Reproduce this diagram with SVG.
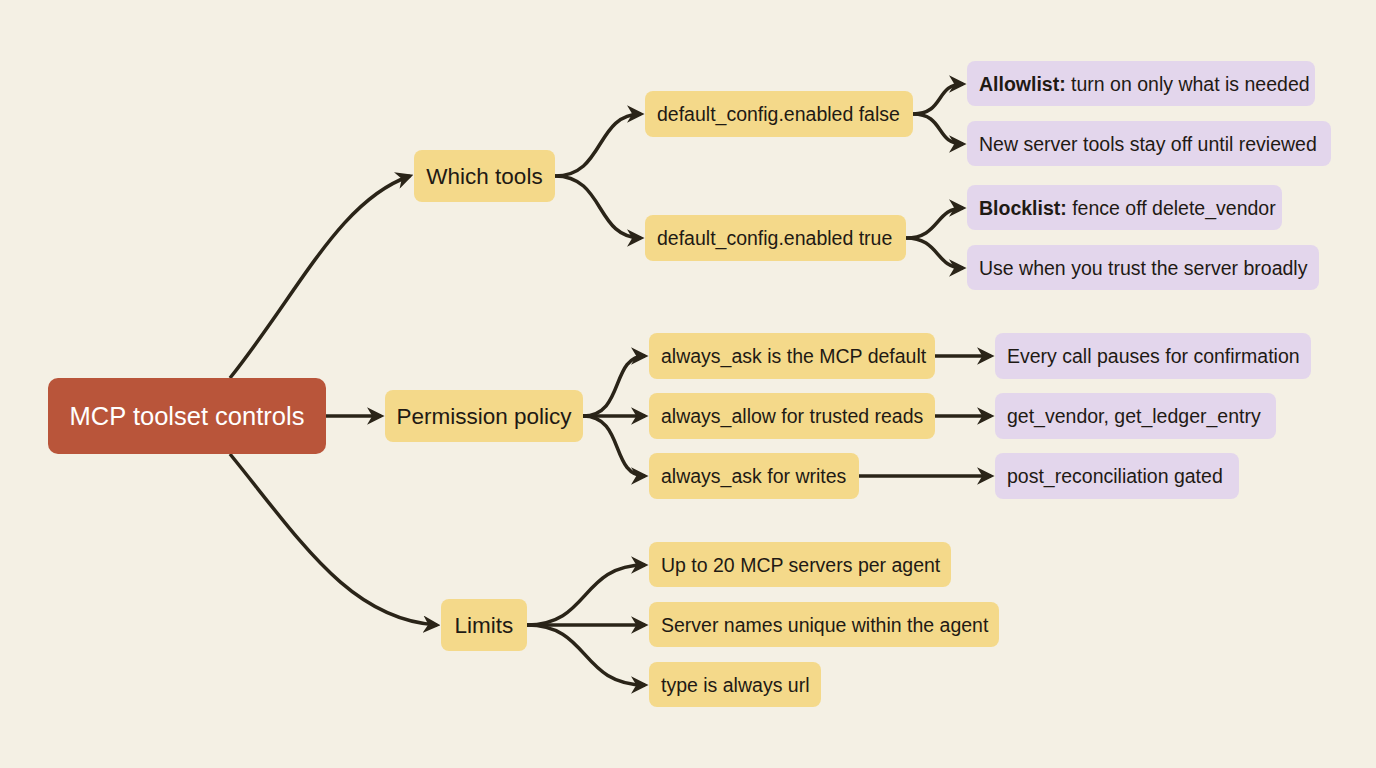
<svg xmlns="http://www.w3.org/2000/svg" width="1376" height="768" viewBox="0 0 1376 768">
<style>
text{font-family:"Liberation Sans",Arial,sans-serif;fill:#1f1a14;dominant-baseline:central}
.y{fill:#f4d98a}.p{fill:#e3d6ec}
.t{font-size:19.5px}.m{font-size:22.5px}
.c path{fill:none;stroke:#2a2418;stroke-width:3.5;marker-end:url(#a)}
</style>
<defs><marker id="a" viewBox="0 0 10 10" refX="8" refY="5" markerWidth="5" markerHeight="5" orient="auto" markerUnits="strokeWidth"><path d="M0,0L10,5L0,10L3,5z" fill="#2a2418"/></marker></defs>
<rect width="1376" height="768" fill="#f4f0e4"/>
<g class="c">
<path d="M230,378 C300,290 340,200 410,176"/>
<path d="M326,416 L381,416"/>
<path d="M230,454 C300,540 350,620 437,625"/>
<path d="M555,176 C605,176 595,114 641,114"/>
<path d="M555,176 C605,176 595,238 641,238"/>
<path d="M913,114 C945,114 935,84 963,84"/>
<path d="M913,114 C945,114 935,144 963,144"/>
<path d="M906,238 C940,238 935,208 963,208"/>
<path d="M906,238 C940,238 935,268 963,268"/>
<path d="M583,416 C625,416 610,356 645,356"/>
<path d="M583,416 L645,416"/>
<path d="M583,416 C625,416 610,476 645,476"/>
<path d="M935,356 L991,356"/>
<path d="M935,416 L991,416"/>
<path d="M859,476 L991,476"/>
<path d="M527,625 C590,625 580,565 645,565"/>
<path d="M527,625 L645,625"/>
<path d="M527,625 C590,625 580,685 645,685"/>
</g>
<g id="root"><rect x="48" y="378" width="278" height="76" rx="10" fill="#b9553a"/><text x="187" y="416" text-anchor="middle" style="fill:#fff;font-size:25.5px">MCP toolset controls</text></g>
<g id="which"><rect class="y" x="414" y="150" width="141" height="52" rx="8"/><text class="m" x="484.5" y="176" text-anchor="middle">Which tools</text></g>
<g id="perm"><rect class="y" x="385" y="390" width="198" height="52" rx="8"/><text class="m" x="484" y="416" text-anchor="middle">Permission policy</text></g>
<g id="limits"><rect class="y" x="441" y="599" width="86" height="52" rx="8"/><text class="m" x="484" y="625" text-anchor="middle">Limits</text></g>
<g id="dfalse"><rect class="y" x="645" y="91" width="268" height="46" rx="8"/><text class="t" x="657" y="114">default_config.enabled false</text></g>
<g id="dtrue"><rect class="y" x="645" y="215" width="261" height="46" rx="8"/><text class="t" x="657" y="238">default_config.enabled true</text></g>
<g id="allow"><rect class="p" x="967" y="61" width="348" height="45" rx="8"/><text class="t" x="979" y="84"><tspan font-weight="bold">Allowlist:</tspan> turn on only what is needed</text></g>
<g id="newsrv"><rect class="p" x="967" y="121" width="364" height="45" rx="8"/><text class="t" x="979" y="144">New server tools stay off until reviewed</text></g>
<g id="block"><rect class="p" x="967" y="185" width="315" height="45" rx="8"/><text class="t" x="979" y="208"><tspan font-weight="bold">Blocklist:</tspan> fence off delete_vendor</text></g>
<g id="usewhen"><rect class="p" x="967" y="245" width="352" height="45" rx="8"/><text class="t" x="979" y="268">Use when you trust the server broadly</text></g>
<g id="ask"><rect class="y" x="649" y="333" width="286" height="46" rx="8"/><text class="t" x="661" y="356">always_ask is the MCP default</text></g>
<g id="allowr"><rect class="y" x="649" y="393" width="286" height="46" rx="8"/><text class="t" x="661" y="416">always_allow for trusted reads</text></g>
<g id="askw"><rect class="y" x="649" y="453" width="210" height="46" rx="8"/><text class="t" x="661" y="476">always_ask for writes</text></g>
<g id="every"><rect class="p" x="995" y="333" width="316" height="46" rx="8"/><text class="t" x="1007" y="356">Every call pauses for confirmation</text></g>
<g id="getv"><rect class="p" x="995" y="393" width="281" height="46" rx="8"/><text class="t" x="1007" y="416">get_vendor, get_ledger_entry</text></g>
<g id="post"><rect class="p" x="995" y="453" width="244" height="46" rx="8"/><text class="t" x="1007" y="476">post_reconciliation gated</text></g>
<g id="up20"><rect class="y" x="649" y="542" width="302" height="45" rx="8"/><text class="t" x="661" y="565">Up to 20 MCP servers per agent</text></g>
<g id="names"><rect class="y" x="649" y="602" width="350" height="45" rx="8"/><text class="t" x="661" y="625">Server names unique within the agent</text></g>
<g id="type"><rect class="y" x="649" y="662" width="172" height="45" rx="8"/><text class="t" x="661" y="685">type is always url</text></g>
</svg>
